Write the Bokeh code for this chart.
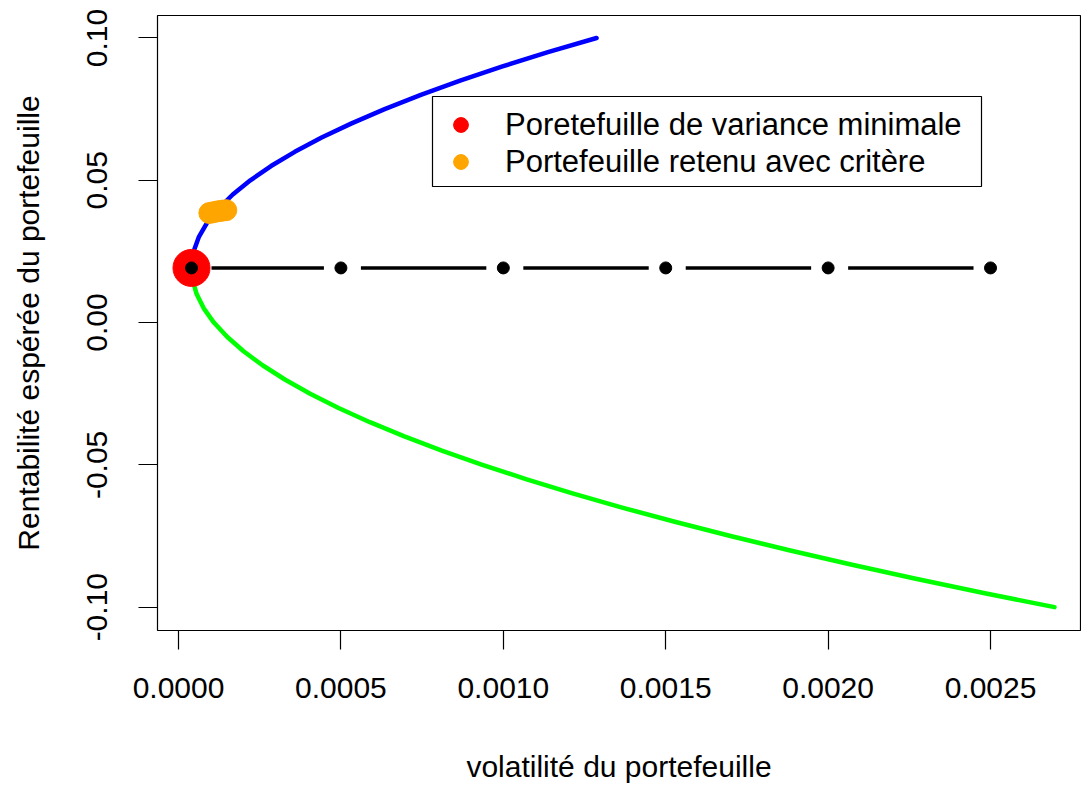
import math
from bokeh.plotting import figure
from bokeh.models import Range1d, FixedTicker, Legend, LegendItem, BoxAnnotation
from bokeh.embed import file_html
from bokeh.resources import INLINE

# ---- data ----
# efficient frontier (upper branch): expected return and variance
blue_ret = [0.0192, 0.0225, 0.025, 0.03, 0.035, 0.04, 0.045, 0.05, 0.055, 0.06,
            0.065, 0.07, 0.075, 0.08, 0.085, 0.09, 0.095, 0.10]
blue_var = [0.0000400, 0.0000421, 0.0000464, 0.0000623, 0.0000877, 0.0001226,
            0.0001671, 0.0002212, 0.0002848, 0.0003580, 0.0004407, 0.0005329,
            0.0006347, 0.0007461, 0.0008670, 0.0009974, 0.0011374, 0.0012870]
# lower branch
green_ret = [0.0192, 0.015, 0.01, 0.005, 0.0, -0.005, -0.01, -0.015, -0.02, -0.025,
             -0.03, -0.035, -0.04, -0.045, -0.05, -0.055, -0.06, -0.065, -0.07,
             -0.075, -0.08, -0.085, -0.09, -0.095, -0.10]
green_var = [0.0000400, 0.0000433, 0.0000558, 0.0000777, 0.0001089, 0.0001495,
             0.0001994, 0.0002587, 0.0003274, 0.0004053, 0.0004927, 0.0005893,
             0.0006954, 0.0008107, 0.0009355, 0.0010696, 0.0012130, 0.0013658,
             0.0015279, 0.0016994, 0.0018802, 0.0020704, 0.0022699, 0.0024788,
             0.0026970]
# minimum variance portfolio
minvar_var = [0.00004]
minvar_ret = [0.0192]
# horizontal reference line with points
hline_var = [0.00004, 0.0005, 0.0010, 0.0015, 0.0020, 0.0025]
hline_ret = [0.0192, 0.0192, 0.0192, 0.0192, 0.0192, 0.0192]
# retained portfolios (criterion)
crit_var = [0.000095, 0.000108, 0.000121, 0.000134, 0.000147]
crit_ret = [0.0385, 0.0388, 0.0391, 0.0393, 0.0395]

x_ticks = [0.0, 0.0005, 0.0010, 0.0015, 0.0020, 0.0025]
x_tick_labels = ["0.0000", "0.0005", "0.0010", "0.0015", "0.0020", "0.0025"]
y_ticks = [-0.10, -0.05, 0.0, 0.05, 0.10]
y_tick_labels = ["-0.10", "-0.05", "0.00", "0.05", "0.10"]

legend_labels = ["Poretefuille de variance minimale", "Portefeuille retenu avec critère"]
legend_colors = ["#FF0000", "#FFA500"]

# ---- figure ----
W, H = 1081, 785
ML, MT, MB, MR = 157, 15, 154, 1
x0, x1 = -0.0000647, 0.002777
y0, y1 = -0.1082, 0.1079

p = figure(width=W, height=H, output_backend="svg", toolbar_location=None,
           x_range=Range1d(x0, x1), y_range=Range1d(y0, y1),
           min_border_left=ML, min_border_top=MT, min_border_bottom=MB,
           min_border_right=MR)
p.background_fill_color = "white"
p.border_fill_color = "white"
p.outline_line_color = "black"
p.outline_line_width = 1.2
p.xgrid.visible = False
p.ygrid.visible = False

FONT = "Liberation Sans"
for ax in (p.xaxis[0], p.yaxis[0]):
    ax.axis_line_color = None
    ax.major_tick_out = 19
    ax.major_tick_in = 0
    ax.major_tick_line_color = "black"
    ax.major_tick_line_width = 1.2
    ax.minor_tick_line_color = None
    ax.major_label_text_font = FONT
    ax.major_label_text_font_size = "30px"
    ax.major_label_text_color = "black"
    ax.axis_label_text_font = FONT
    ax.axis_label_text_font_size = "30px"
    ax.axis_label_text_font_style = "normal"
    ax.axis_label_text_color = "black"

p.xaxis[0].ticker = FixedTicker(ticks=x_ticks)
p.xaxis[0].major_label_overrides = dict(zip(x_ticks, x_tick_labels))
p.yaxis[0].ticker = FixedTicker(ticks=y_ticks)
p.yaxis[0].major_label_overrides = dict(zip(y_ticks, y_tick_labels))
p.yaxis[0].major_label_orientation = "parallel"

p.xaxis[0].axis_label = "volatilité du portefeuille"
p.yaxis[0].axis_label = "Rentabilité espérée du portefeuille"
p.xaxis[0].major_label_standoff = 28
p.yaxis[0].major_label_standoff = 31
p.xaxis[0].axis_label_standoff = 49
p.yaxis[0].axis_label_standoff = 40

# curves
p.line(blue_var, blue_ret, line_color="#0000FF", line_width=4.5,
       line_cap="round", line_join="round")
p.line(green_var, green_ret, line_color="#00FF00", line_width=4.5,
       line_cap="round", line_join="round")

# min-variance point
p.scatter(minvar_var, minvar_ret, size=37, color="#FF0000")

# horizontal line with gaps around points (R type="b")
px_per_unit = (W - ML - MR) / (x1 - x0)
gap_left = 17 / px_per_unit
gap_right = 20 / px_per_unit
seg_x0 = [hline_var[i] + gap_right for i in range(len(hline_var) - 1)]
seg_x1 = [hline_var[i + 1] - gap_left for i in range(len(hline_var) - 1)]
seg_y = hline_ret[:-1]
p.segment(seg_x0, seg_y, seg_x1, seg_y, line_color="black", line_width=3.5)
p.scatter(hline_var, hline_ret, size=12, color="black")

# retained portfolios
p.scatter(crit_var, crit_ret, size=21, color="#FFA500")

# legend: outer box (screen units, relative to the plot frame)
box = BoxAnnotation(left=275, right=824, bottom=444, top=534,
                    left_units="screen", right_units="screen",
                    bottom_units="screen", top_units="screen",
                    fill_color="white", fill_alpha=1.0,
                    line_color="black", line_width=1.2, line_alpha=1.0)
p.add_layout(box)

# one single-row legend per entry
nan = float("nan")
row_bottoms = [487, 450]
for lab, col, yb in zip(legend_labels, legend_colors, row_bottoms):
    r = p.scatter(x=[nan], y=[nan], size=15, color=col)
    lg = Legend(items=[LegendItem(label=lab, renderers=[r])], location=(285, yb))
    lg.border_line_color = None
    lg.background_fill_alpha = 0.0
    lg.label_text_font = FONT
    lg.label_text_font_size = "31px"
    lg.label_text_color = "black"
    lg.glyph_width = 37
    lg.glyph_height = 37
    lg.label_standoff = 26
    lg.padding = 0
    lg.spacing = 0
    lg.margin = 0
    lg.label_height = 30
    p.add_layout(lg, "center")

open("out.html", "w").write(file_html(p, INLINE))
